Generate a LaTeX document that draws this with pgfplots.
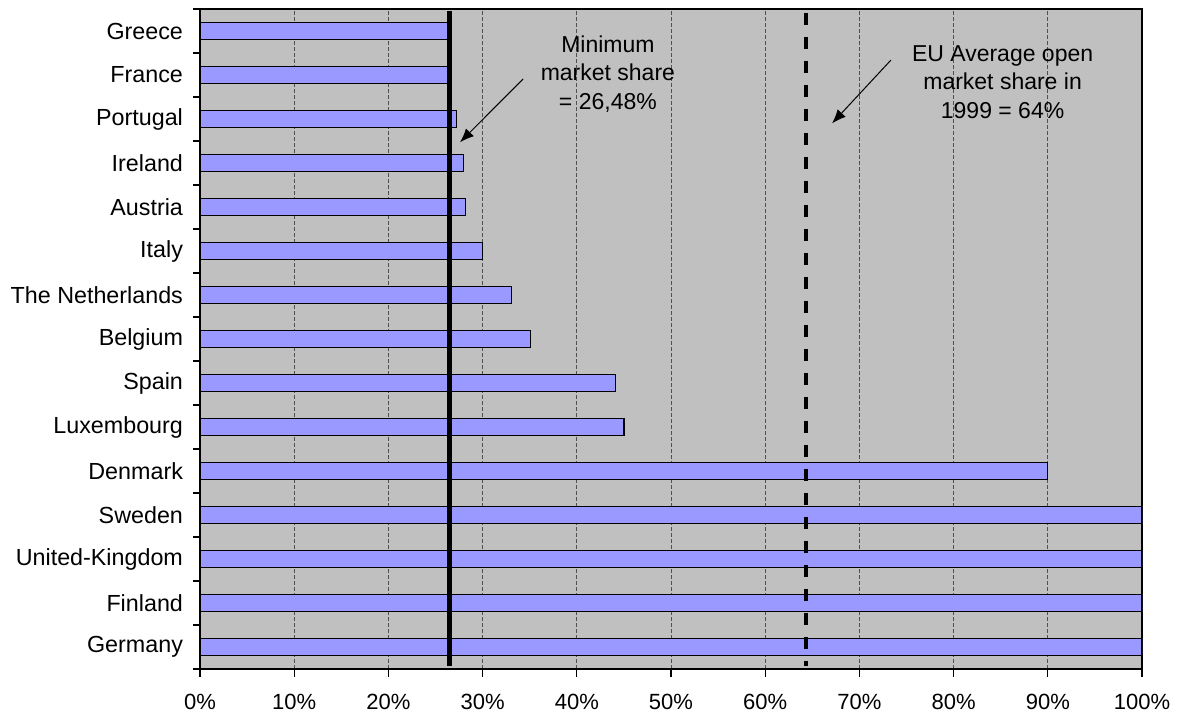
\documentclass[border=0pt]{standalone}
\usepackage{fontspec}
\setmainfont{Liberation Sans}
\usepackage{pgfplots}
\pgfplotsset{compat=1.18}
\usetikzlibrary{arrows.meta}
\definecolor{barblue}{HTML}{9999FF}
\definecolor{bggray}{HTML}{C0C0C0}
\definecolor{gridgray}{HTML}{505050}
\begin{document}
\begin{tikzpicture}
\useasboundingbox (0,0) rectangle (589.5pt,357.5pt);
\begin{axis}[
  at={(100pt,23pt)}, anchor=south west,
  scale only axis, width=471pt, height=330pt,
  xmin=0, xmax=100, ymin=-0.5, ymax=14.5,
  axis background/.style={fill=bggray},
  axis line style={draw=black, line width=0.6pt},
  xtick={0,10,...,100},
  xticklabels={0\%,10\%,20\%,30\%,40\%,50\%,60\%,70\%,80\%,90\%,100\%},
  ytick={0,...,14},
  yticklabels={Germany,Finland,United-Kingdom,Sweden,Denmark,Luxembourg,Spain,Belgium,The Netherlands,Italy,Austria,Ireland,Portugal\hspace{0.28em},France,Greece},
  minor ytick={-0.5,0.5,...,14.5},
  tick align=outside,
  xtick pos=left, ytick pos=left,
  major tick length=4pt, minor tick length=3.5pt,
  major y tick style={draw=none},
  minor y tick style={black, line width=0.6pt},
  major x tick style={black, line width=0.6pt},
  xmajorgrids,
  major x grid style={gridgray, dash pattern=on 2pt off 1pt, line width=0.5pt},
  /pgf/number format/assume math mode=true,
  xticklabel style={font=\fontsize{11}{13}\selectfont, yshift=-5pt},
  yticklabel style={font=\fontsize{11.65}{13}\selectfont, xshift=-1pt},
  xbar, bar width=0.39,
]
\addplot[fill=barblue, draw=black, line width=0.6pt] coordinates {
(100,0) (100,1) (100,2) (100,3) (90,4) (45,5) (44.1,6) (35.1,7) (33.1,8) (30,9) (28.2,10) (28,11) (27.2,12) (26.48,13) (26.48,14)
};
\end{axis}
\begin{axis}[
  at={(100pt,23pt)}, anchor=south west,
  scale only axis, width=471pt, height=330pt,
  xmin=0, xmax=100, ymin=-0.5, ymax=14.5,
  hide axis,
]
\addplot[black, line width=2.5pt] coordinates {(26.48,14.45) (26.48,-0.43)};
\addplot[black, line width=2pt, dash pattern=on 6pt off 6pt] coordinates {(64.3,14.42) (64.3,-0.43)};
\draw[-{Latex[length=7pt,width=5.5pt]}, line width=0.5pt] (axis cs:34.3,12.91) -- (axis cs:27.6,11.47);
\draw[-{Latex[length=7pt,width=5.5pt]}, line width=0.5pt] (axis cs:73.35,13.34) -- (axis cs:67.1,11.9);
\node[align=center, font=\fontsize{11.5}{14.3}\selectfont] at (axis cs:43.3,13.02) {Minimum\\market share\\= 26,48\%};
\node[align=center, font=\fontsize{11.5}{14.3}\selectfont] at (axis cs:85.2,12.84) {EU Average open\\market share in\\1999 = 64\%};
\end{axis}
\end{tikzpicture}
\end{document}
